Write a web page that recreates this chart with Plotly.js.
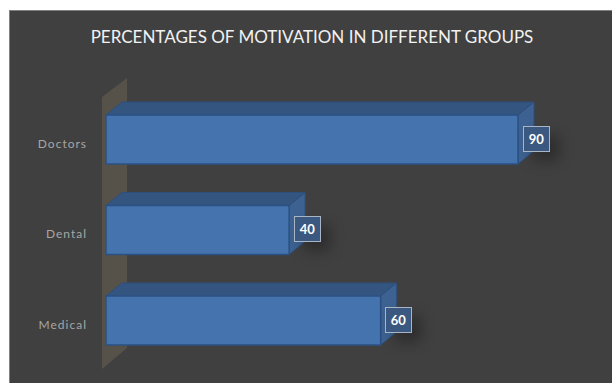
<!DOCTYPE html>
<html><head><meta charset="utf-8">
<script src="https://cdn.plot.ly/plotly-3.0.1.min.js"></script>
<style>
html,body{margin:0;padding:0;background:#fff;overflow:hidden}
#chart{position:absolute;left:10px;top:11px;width:602px;height:372px;box-shadow:0 0 0 1px #808080}
.ytick text{letter-spacing:1px}
.annotation rect.bg{filter:drop-shadow(9px 9px 7px rgba(0,0,0,.3))}
</style></head><body>
<div id="chart"></div>
<script>
const categories = ['Medical', 'Dental', 'Doctors'];
const values = [60, 40, 90];
const chartTitle = 'PERCENTAGES OF MOTIVATION IN DIFFERENT GROUPS';

const W = 602, H = 372;
const plot = {l: 86, r: 0, t: 49, b: 0};
const pxPerUnit = 412 / 90, pxPerCat = 90.5;
const xMin = -(106 - 10 - plot.l) / pxPerUnit;
const xMax = xMin + (W - plot.l) / pxPerUnit;
const yTop = 2 + (139.5 - 11 - plot.t) / pxPerCat;
const yBot = yTop - (H - plot.t) / pxPerCat;
const barW = 49 / pxPerCat, half = barW / 2;
const dx = 16 / pxPerUnit, dy = 13 / pxPerCat;

const path = pts => 'M' + pts.map(p => p[0] + ',' + p[1]).join('L') + 'Z';
const poly = (pts, fill, line) => ({type: 'path', xref: 'x', yref: 'y', layer: 'below', path: path(pts),
  fillcolor: fill, line: {color: line, width: 1}});

const wx0 = -4 / pxPerUnit, wx1 = 21 / pxPerUnit;
const shapes = [poly([[wx0, 2 + 42.5 / pxPerCat], [wx1, 2 + 61.5 / pxPerCat], [wx1, -27.5 / pxPerCat], [wx0, -48.5 / pxPerCat]], '#565249', 'rgba(0,0,0,0)')];
values.forEach((v, i) => {
  const t = i + half, b = i - half;
  shapes.push(poly([[0, t], [dx, t + dy], [v + dx, t + dy], [v, t]], '#34557f', '#2d4f7c'));
  shapes.push(poly([[v, t], [v + dx, t + dy], [v + dx, b + dy], [v, b]], '#3d6291', '#2d4f7c'));
});

const annotations = values.map((v, i) => ({
  x: v, y: categories[i], xref: 'x', yref: 'y', text: '<b>' + v + '</b>', showarrow: false,
  xshift: 18, yshift: 1, width: 23, height: 22, borderpad: 1,
  bgcolor: '#3b5880', bordercolor: '#a9b4c4', borderwidth: 1,
  font: {family: 'Lato, "Open Sans", sans-serif', size: 13, color: '#ffffff'}
}));

Plotly.newPlot('chart', [{
  type: 'bar', orientation: 'h', y: categories, x: values, width: barW,
  marker: {color: '#4573ad', line: {color: '#2b5184', width: 1.5}},
  hoverinfo: 'x+y'
}], {
  width: W, height: H,
  paper_bgcolor: '#404040', plot_bgcolor: 'rgba(0,0,0,0)',
  margin: plot, showlegend: false,
  title: {text: chartTitle, x: 302 / W, xanchor: 'center', y: 1 - 26 / H, yanchor: 'middle',
    font: {family: 'Lato, "Open Sans", sans-serif', size: 17, color: '#f2f2f2'}},
  xaxis: {range: [xMin, xMax], visible: false, fixedrange: true},
  yaxis: {type: 'category', categoryorder: 'array', categoryarray: categories, range: [yBot, yTop],
    showgrid: false, zeroline: false, showline: false, ticks: '', ticklabelshift: 4, ticklabelstandoff: 8,
    tickfont: {family: 'Lato, "Open Sans", sans-serif', size: 12, color: '#a6a6a6'}, fixedrange: true},
  shapes, annotations
}, {displayModeBar: false});
</script></body></html>
